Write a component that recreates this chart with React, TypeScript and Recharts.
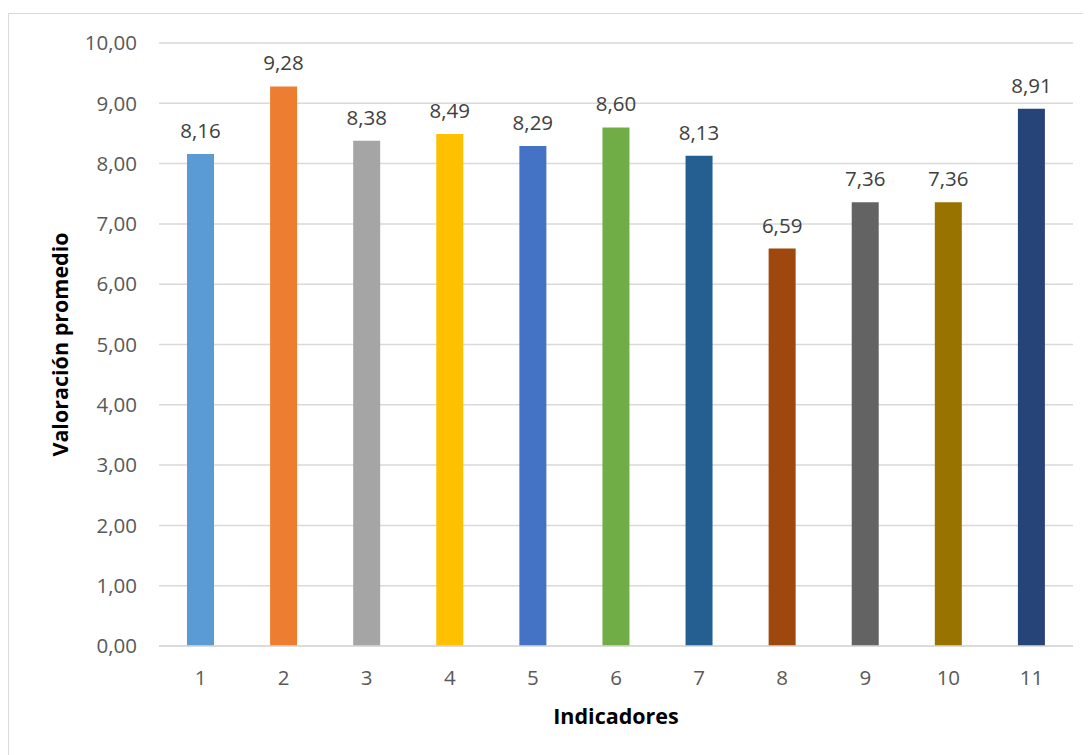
import React from 'react';
import { BarChart, Bar, XAxis, YAxis, CartesianGrid, Cell, LabelList, Label } from 'recharts';

const categories = ['1', '2', '3', '4', '5', '6', '7', '8', '9', '10', '11'];
const values = [8.16, 9.28, 8.38, 8.49, 8.29, 8.6, 8.13, 6.59, 7.36, 7.36, 8.91];
const colors = ['#5B9BD5', '#ED7D31', '#A5A5A5', '#FFC000', '#4472C4', '#70AD47', '#255E91', '#9E480E', '#636363', '#997300', '#264478'];
const yTicks = [0, 1, 2, 3, 4, 5, 6, 7, 8, 9, 10];

const data = categories.map((c, i) => ({ name: c, value: values[i] }));
const fmt = (v: number) => v.toFixed(2).replace('.', ',');
const FONT = '"Open Sans", "Noto Sans", sans-serif';

export default function App() {
  return (
    <div style={{ marginTop: 5, width: 1090, height: 745, border: '1px solid #d9d9d9', boxSizing: 'border-box', background: '#fff' }}>
      <BarChart
        width={1082}
        height={740}
        data={data}
        margin={{ top: 29, right: 18, left: 0, bottom: 0 }}
        barCategoryGap={28}
        style={{ fontFamily: FONT }}
      >
        <CartesianGrid vertical={false} stroke="#d9d9d9" strokeWidth={1.5} />
        <XAxis
          dataKey="name"
          height={108}
          tickLine={false}
          axisLine={{ stroke: '#d9d9d9', strokeWidth: 1.5 }}
          tick={{ fill: '#595959', fontSize: 20.5, fontFamily: FONT }}
          tickSize={0}
          tickMargin={24}
        >
          <Label value="Indicadores" position="insideBottom" offset={30} style={{ fontWeight: 'bold', fontSize: 21.5, fill: '#000', fontFamily: FONT }} />
        </XAxis>
        <YAxis
          width={150}
          domain={[0, 10]}
          ticks={yTicks}
          interval={0}
          tickFormatter={fmt}
          tickLine={false}
          axisLine={false}
          tickSize={0}
          tickMargin={22}
          tick={{ fill: '#595959', fontSize: 20.5, fontFamily: FONT }}
        >
          <Label value="Valoración promedio" angle={-90} position="insideLeft" offset={51} style={{ textAnchor: 'middle', fontWeight: 'bold', fontSize: 21.5, fill: '#000', fontFamily: FONT }} />
        </YAxis>
        <Bar dataKey="value" isAnimationActive={false}>
          {data.map((d, i) => (
            <Cell key={d.name} fill={colors[i]} />
          ))}
          <LabelList dataKey="value" position="top" offset={16} formatter={(v: any) => fmt(Number(v))} style={{ fill: '#404040', fontSize: 20.5, fontFamily: FONT }} />
        </Bar>
      </BarChart>
    </div>
  );
}
